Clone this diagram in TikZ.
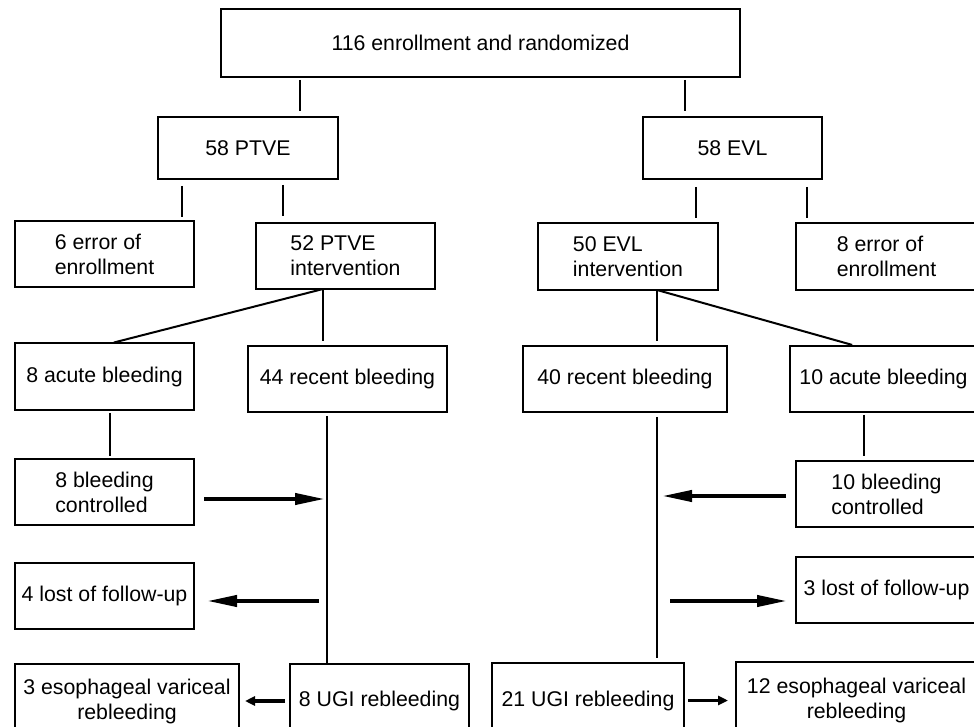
\documentclass[tikz,border=0pt]{standalone}
\usepackage{fontspec}
\setmainfont{Liberation Sans}
\usetikzlibrary{arrows.meta}

\begin{document}
\begin{tikzpicture}[x=1pt, y=1pt,
    box/.style = {draw, line width=1.8pt, inner sep=0pt, outer sep=0pt, font=\fontsize{21.3}{25}\selectfont},
    link/.style = {line width=2pt},
    flow/.style = {line width=4pt, -{Triangle[length=30pt, width=11pt]}},
    flowsmall/.style = {line width=3.5pt, -{Triangle[length=10pt, width=9pt]}}]
    \useasboundingbox (0,0) rectangle (974,726);
    \clip (0,0) rectangle (974,726);

    \node[box, minimum width=519pt, minimum height=68pt] (top) at (480.5, 683) {116 enrollment and randomized};
    \node[box, minimum width=180pt, minimum height=62pt] (ptve) at (248, 578) {58 PTVE};
    \node[box, minimum width=179pt, minimum height=62pt] (evl) at (732.5, 578) {58 EVL};

    \node[box, minimum width=179pt, minimum height=66pt, align=left] (err6) at (104.5, 472) {6 error of\\enrollment};
    \node[box, minimum width=179pt, minimum height=66pt, align=left] (ptveint) at (345.5, 470) {52 PTVE\\intervention};
    \node[box, minimum width=180pt, minimum height=67pt, align=left] (evlint) at (628, 469.5) {50 EVL\\intervention};
    \node[box, minimum width=181pt, minimum height=67pt, align=left] (err8) at (886.5, 469.5) {8 error of\\enrollment};

    \node[box, minimum width=179pt, minimum height=67pt] (acute8) at (104.5, 349.5) {8 acute bleeding};
    \node[box, minimum width=199pt, minimum height=66pt] (recent44) at (347.5, 347) {44 recent bleeding};
    \node[box, minimum width=204pt, minimum height=66pt] (recent40) at (625, 347) {40 recent bleeding};
    \node[box, minimum width=187pt, minimum height=66pt] (acute10) at (883.5, 347) {10 acute bleeding};

    \node[box, minimum width=179pt, minimum height=66pt, align=left] (ctrl8) at (104.5, 234) {8 bleeding\\controlled};
    \node[box, minimum width=181pt, minimum height=66pt, align=left] (ctrl10) at (886.5, 232) {10 bleeding\\controlled};

    \node[box, minimum width=179pt, minimum height=66pt] (lost4) at (104.5, 130) {4 lost of follow-up};
    \node[box, minimum width=181pt, minimum height=66pt] (lost3) at (886.5, 136) {3 lost of follow-up};

    \node[box, minimum width=224pt, minimum height=74pt, align=center] (eso3) at (127, 25) {3 esophageal variceal\\rebleeding};
    \node[box, minimum width=179pt, minimum height=74pt] (ugi8) at (379.5, 25) {8 UGI rebleeding};
    \node[box, minimum width=192pt, minimum height=75pt] (ugi21) at (588, 25.5) {21 UGI rebleeding};
    \node[box, minimum width=241pt, minimum height=76pt, align=center] (eso12) at (856.5, 26) {12 esophageal variceal\\rebleeding};

    \coordinate (t44a) at (327, 227);
    \coordinate (t44b) at (327, 125);
    \coordinate (t40a) at (657, 230);
    \coordinate (t40b) at (657, 125);

    \draw[link, shorten <=3pt, shorten >=6pt] ([xshift=-180.5pt]top.south) -- ([xshift=52pt]ptve.north);
    \draw[link, shorten <=3pt, shorten >=6pt] ([xshift=204.5pt]top.south) -- ([xshift=-47.5pt]evl.north);
    \draw[link, shorten <=7pt, shorten >=4pt] ([xshift=-66pt]ptve.south) -- ([xshift=77.5pt]err6.north);
    \draw[link, shorten <=6pt, shorten >=7pt] ([xshift=35pt]ptve.south) -- ([xshift=-62.5pt]ptveint.north);
    \draw[link, shorten <=8pt, shorten >=5pt] ([xshift=-36.5pt]evl.south) -- ([xshift=68pt]evlint.north);
    \draw[link, shorten <=8pt, shorten >=5pt] ([xshift=74.5pt]evl.south) -- ([xshift=-79.5pt]err8.north);

    \draw[link, shorten >=2pt] ([xshift=-22.5pt]ptveint.south) -- ([xshift=7.5pt]acute8.north);
    \draw[link, shorten >=5pt] ([xshift=-22.5pt]ptveint.south) -- ([xshift=-24.5pt]recent44.north);
    \draw[link, shorten >=5pt] ([xshift=29pt]evlint.south) -- ([xshift=32pt]recent40.north);
    \draw[link, shorten >=4pt] ([xshift=29pt]evlint.south) -- ([xshift=-27.5pt]acute10.north);

    \draw[link, shorten <=3pt, shorten >=3pt] ([xshift=5.5pt]acute8.south) -- ([xshift=5.5pt]ctrl8.north);
    \draw[link, shorten <=3pt, shorten >=5pt] ([xshift=-19.5pt]acute10.south) -- ([xshift=-22.5pt]ctrl10.north);
    \draw[link, shorten <=4pt] ([xshift=-20.5pt]recent44.south) -- ([xshift=-52.5pt]ugi8.north);
    \draw[link, shorten <=5pt, shorten >=5pt] ([xshift=32pt]recent40.south) -- ([xshift=69pt]ugi21.north);

    \draw[flow, shorten <=10pt, shorten >=2pt] (ctrl8.east |- t44a) -- (t44a);
    \draw[flow, shorten <=8pt, shorten >=13pt] (t44b) -- (lost4.east |- t44b);
    \draw[flowsmall, shorten <=5pt, shorten >=6pt] (ugi8.west) -- (ugi8.west -| eso3.east);
    \draw[flow, shorten <=10pt, shorten >=5pt] (ctrl10.west |- t40a) -- (t40a);
    \draw[flow, shorten <=13pt, shorten >=9pt] (t40b) -- (lost3.west |- t40b);
    \draw[flowsmall, shorten <=4pt, shorten >=8pt] (ugi21.east) -- (ugi21.east -| eso12.west);
\end{tikzpicture}
\end{document}
